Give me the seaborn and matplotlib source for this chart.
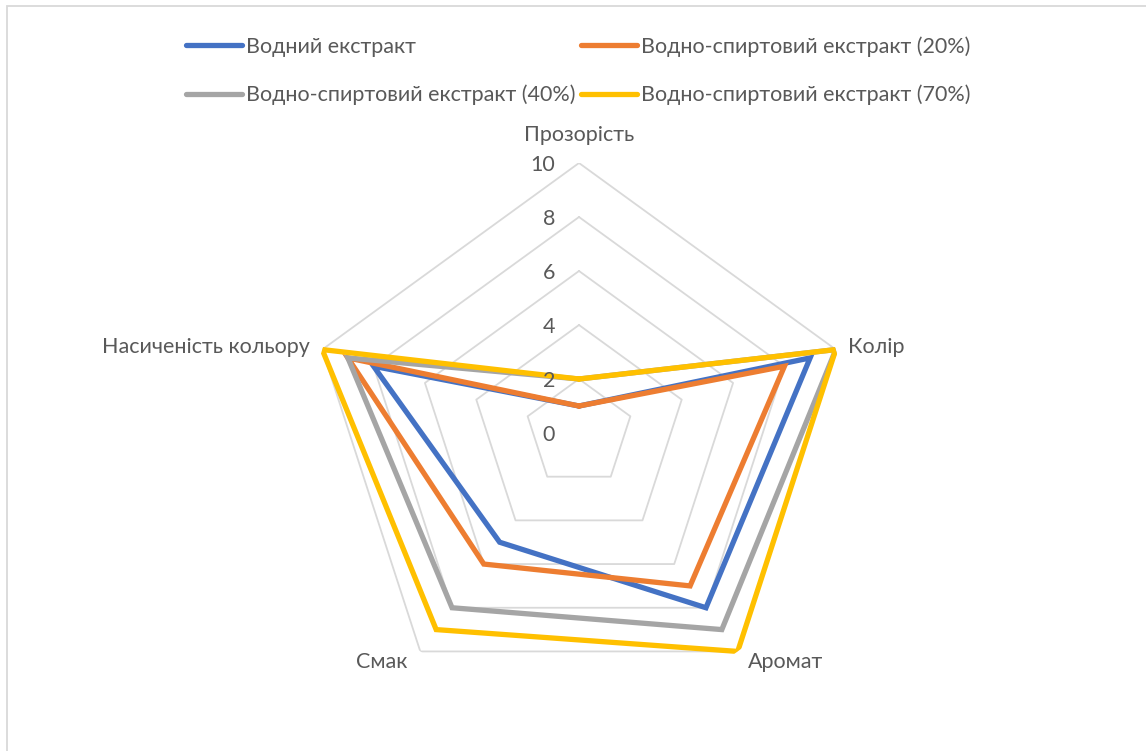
import numpy as np
import pandas as pd
import matplotlib
matplotlib.use("Agg")
import matplotlib.pyplot as plt
from matplotlib.patches import Rectangle
import seaborn as sns

categories = ["Прозорість", "Колір", "Аромат", "Смак", "Насиченість кольору"]
series_names = [
    "Водний екстракт",
    "Водно-спиртовий екстракт (20%)",
    "Водно-спиртовий екстракт (40%)",
    "Водно-спиртовий екстракт (70%)",
]
water = [1, 9, 8, 5, 8]
alc20 = [1, 8, 7, 6, 9]
alc40 = [2, 10, 9, 8, 9]
alc70 = [2, 10, 10, 9, 10]
radial_ticks = [0, 2, 4, 6, 8, 10]
colors = ["#4472C4", "#ED7D31", "#A5A5A5", "#FFC000"]

sns.set_theme(style="white")
plt.rcParams["font.family"] = ["Lato", "DejaVu Sans"]
TEXT = "#595959"
FS = 15.5

W, H = 1146, 751
fig = plt.figure(figsize=(W / 100, H / 100), dpi=100)
cx, cy, R = 579, 433, 270
ax = fig.add_axes([(cx - R) / W, (H - cy - R) / H, 2 * R / W, 2 * R / H], projection="polar")
ax.set_theta_zero_location("N")
ax.set_theta_direction(-1)
ax.set_ylim(0, 10)
ax.grid(False)
ax.spines["polar"].set_visible(False)
ax.set_xticks([])
ax.set_yticks([])
ax.patch.set_alpha(0)

n = len(categories)
theta = np.arange(n + 1) * 2 * np.pi / n

# pentagonal grid rings
for v in radial_ticks[1:]:
    ax.plot(theta, [v] * (n + 1), color="#D9D9D9", lw=1.3, zorder=1)

rows = []
for name, vals in zip(series_names, [water, alc20, alc40, alc70]):
    closed = list(vals) + [vals[0]]
    for i, (t, v) in enumerate(zip(theta, closed)):
        rows.append({"series": name, "theta": t, "value": v, "order": i})
df = pd.DataFrame(rows)

handles = []
for name, col in zip(series_names, colors):
    sub = df[df["series"] == name]
    sns.lineplot(data=sub, x="theta", y="value", sort=False, estimator=None,
                 color=col, lw=3.8, ax=ax, legend=False, zorder=3)
    ln = ax.get_lines()[-1]
    ln.set_solid_joinstyle("miter")
    handles.append(ln)
ax.set_xlabel("")
ax.set_ylabel("")

# radial value labels
for v in radial_ticks:
    ax.annotate(str(v), xy=(0, v), xytext=(-24, -2), textcoords="offset pixels",
                ha="right", va="center", fontsize=FS, color=TEXT)

# category labels
offsets = [((0, 28), "center", "center"),
           ((12, 3), "left", "center"),
           ((10, -11), "left", "center"),
           ((-13, -11), "right", "center"),
           ((-12, 3), "right", "center")]
for cat, t, (off, ha, va) in zip(categories, theta[:-1], offsets):
    ax.annotate(cat, xy=(t, 10), xytext=off, textcoords="offset pixels",
                ha=ha, va=va, fontsize=FS, color=TEXT, annotation_clip=False)

order = [0, 2, 1, 3]
leg = fig.legend([handles[i] for i in order], [series_names[i] for i in order],
                 ncol=2, loc="upper left", bbox_to_anchor=(186 / W, 1 - 36 / H),
                 frameon=False, fontsize=FS, handlelength=2.6, handletextpad=0.2,
                 columnspacing=0.25, labelspacing=1.3, borderaxespad=0, borderpad=0)
for t in leg.get_texts():
    t.set_color(TEXT)

fig.patches.append(Rectangle((7 / W, -0.05), 1.2, 1 - 6 / H + 0.05, transform=fig.transFigure,
                             fill=False, edgecolor="#D9D9D9", lw=1.3))

fig.savefig("out.png", dpi=100)
